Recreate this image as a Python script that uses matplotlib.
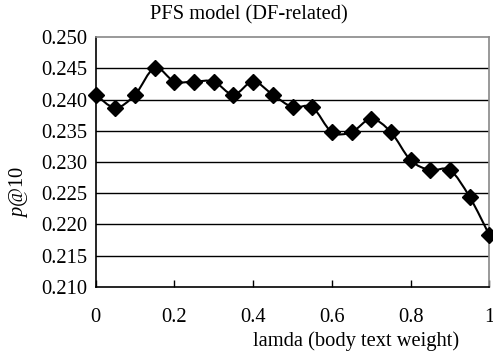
import numpy as np
import matplotlib
matplotlib.use("Agg")
import matplotlib.pyplot as plt
from matplotlib.path import Path
from matplotlib.patches import PathPatch

lam = [0.00, 0.05, 0.10, 0.15, 0.20, 0.25, 0.30, 0.35, 0.40, 0.45, 0.50,
       0.55, 0.60, 0.65, 0.70, 0.75, 0.80, 0.85, 0.90, 0.95, 1.00]
p10 = [0.2408, 0.2387, 0.2408, 0.2451, 0.2429, 0.2429, 0.2429, 0.2408, 0.2429, 0.2408, 0.2388,
       0.2388, 0.2348, 0.2348, 0.2369, 0.2348, 0.2303, 0.2287, 0.2287, 0.2244, 0.2183]
xticks = [0, 0.2, 0.4, 0.6, 0.8, 1]
xticklabels = ["0", "0.2", "0.4", "0.6", "0.8", "1"]
yticks = [0.210, 0.215, 0.220, 0.225, 0.230, 0.235, 0.240, 0.245, 0.250]

plt.rcParams['font.family'] = ['Liberation Serif', 'DejaVu Serif']
plt.rcParams['mathtext.fontset'] = 'custom'
plt.rcParams['mathtext.rm'] = 'Liberation Serif'
plt.rcParams['mathtext.it'] = 'Liberation Serif:italic'
fs = 14.8

fig = plt.figure(figsize=(4.93, 3.54), dpi=100)
ax = fig.add_axes([95.7/493, 1 - 286.7/354, (489.3-95.7)/493, (286.7-37.3)/354])

# smoothed line (Catmull-Rom style Bezier through the data points)
x = np.array(lam); y = np.array(p10)
n = len(x)
verts = [(x[0], y[0])]
codes = [Path.MOVETO]
t = 1/6
for i in range(n-1):
    x0, y0 = (x[i-1], y[i-1]) if i > 0 else (x[i], y[i])
    x3, y3 = (x[i+2], y[i+2]) if i+2 < n else (x[i+1], y[i+1])
    c1 = (x[i] + (x[i+1]-x0)*t, y[i] + (y[i+1]-y0)*t)
    c2 = (x[i+1] - (x3-x[i])*t, y[i+1] - (y3-y[i])*t)
    verts += [c1, c2, (x[i+1], y[i+1])]
    codes += [Path.CURVE4]*3
ax.add_patch(PathPatch(Path(verts, codes), fill=False, edgecolor='black', lw=1.5, zorder=3, clip_on=False))
ax.plot(lam, p10, linestyle='none', marker='D', markersize=7.8, color='black', zorder=4, clip_on=False)

ax.set_xlim(0, 1)
ax.set_ylim(0.210, 0.250)
ax.set_yticks(yticks)
ax.set_yticklabels([f"{v:.3f}" for v in yticks], fontsize=fs)
ax.set_xticks(xticks)
ax.set_xticklabels(xticklabels, fontsize=fs)
ax.tick_params(axis='y', length=0, pad=6)
ax.tick_params(axis='x', direction='in', length=5, width=1, pad=15)
for v in yticks[1:-1]:
    ax.axhline(v, color='black', lw=1, zorder=1)
ax.spines['left'].set_color('black')
ax.spines['bottom'].set_color('black')
ax.spines['left'].set_linewidth(1.2)
ax.spines['bottom'].set_linewidth(1.2)
ax.spines['top'].set_color('#888888')
ax.spines['right'].set_color('#888888')
ax.spines['top'].set_linewidth(1.2)
ax.spines['right'].set_linewidth(1.2)

fig.text(249/493, 1 - 15/354, "PFS model (DF-related)", ha='center', va='center', fontsize=fs)
fig.text(356/493, 1 - 341/354, "lamda (body text weight)", ha='center', va='center', fontsize=fs)
fig.text(19/493, 1 - 192/354, r"$\mathit{p}$@10", ha='center', va='center', rotation=90, fontsize=fs)

fig.savefig("out.png", dpi=100)
